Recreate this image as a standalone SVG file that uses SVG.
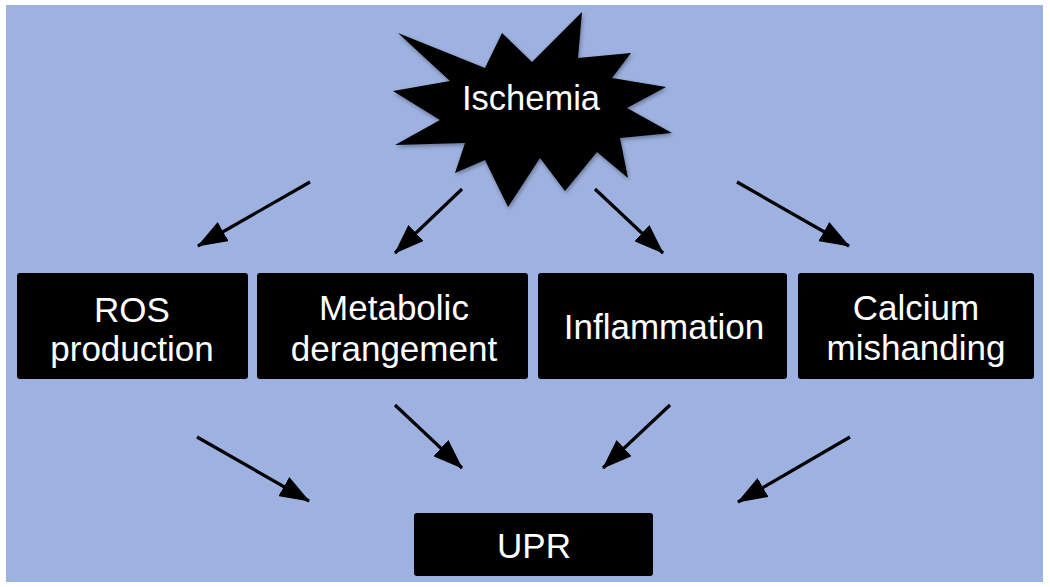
<svg xmlns="http://www.w3.org/2000/svg" width="1050" height="587" viewBox="0 0 1050 587">
<style>
.box{fill:#000;}
.lbl{fill:#fff;font-family:"Liberation Sans",Arial,sans-serif;font-size:35px;text-anchor:middle;}
.arr{stroke:#000;stroke-width:3.2;fill:none;marker-end:url(#ah);}
</style>
<defs>
<marker id="ah" viewBox="0 0 30 22" refX="29" refY="11" markerWidth="30" markerHeight="22" markerUnits="userSpaceOnUse" orient="auto">
<path d="M0,0 L30,11 L0,22 z" fill="#000"/>
</marker>
<filter id="sh" x="-10%" y="-10%" width="120%" height="120%">
<feDropShadow dx="1" dy="2" stdDeviation="2" flood-color="#000" flood-opacity="0.35"/>
</filter>
</defs>
<rect x="0" y="0" width="1050" height="587" fill="#fff"/>
<rect x="6" y="5" width="1037" height="577" fill="#9EB2E1"/>
<g id="ischemia">
<polygon filter="url(#sh)" fill="#000" points="398,33 485,68 502,33 532,62 582,12 578,58 631,53 612,78 666,87 627,108 672,133 620,138 628,178 597,152 565,191 540,158 508,207 485,160 455,173 465,143 395,145 440,120 393,91 450,81"/>
<text class="lbl" x="531" y="110" style="font-size:34.5px">Ischemia</text>
</g>
<g id="ros">
<rect class="box" x="17" y="273" width="231" height="106" rx="3"/>
<text class="lbl" x="132" y="322">ROS</text>
<text class="lbl" x="132" y="361">production</text>
</g>
<g id="metabolic">
<rect class="box" x="257" y="273" width="271" height="106" rx="3"/>
<text class="lbl" x="394" y="320">Metabolic</text>
<text class="lbl" x="394" y="361">derangement</text>
</g>
<g id="inflammation">
<rect class="box" x="538" y="273" width="249" height="106" rx="3"/>
<text class="lbl" x="664" y="339">Inflammation</text>
</g>
<g id="calcium">
<rect class="box" x="798" y="273" width="236" height="106" rx="3"/>
<text class="lbl" x="916" y="320">Calcium</text>
<text class="lbl" x="916" y="360">mishanding</text>
</g>
<g id="upr">
<rect class="box" x="414" y="513" width="239" height="63" rx="3"/>
<text class="lbl" x="534" y="558">UPR</text>
</g>
<g id="connectors">
<line class="arr" x1="310" y1="182" x2="198" y2="246"/>
<line class="arr" x1="462" y1="189" x2="395" y2="253"/>
<line class="arr" x1="595" y1="189" x2="663" y2="253"/>
<line class="arr" x1="737" y1="182" x2="849" y2="246"/>
<line class="arr" x1="197" y1="437" x2="309" y2="501"/>
<line class="arr" x1="395" y1="405" x2="462" y2="468"/>
<line class="arr" x1="670" y1="405" x2="603" y2="468"/>
<line class="arr" x1="850" y1="437" x2="738" y2="502"/>
</g>
</svg>
